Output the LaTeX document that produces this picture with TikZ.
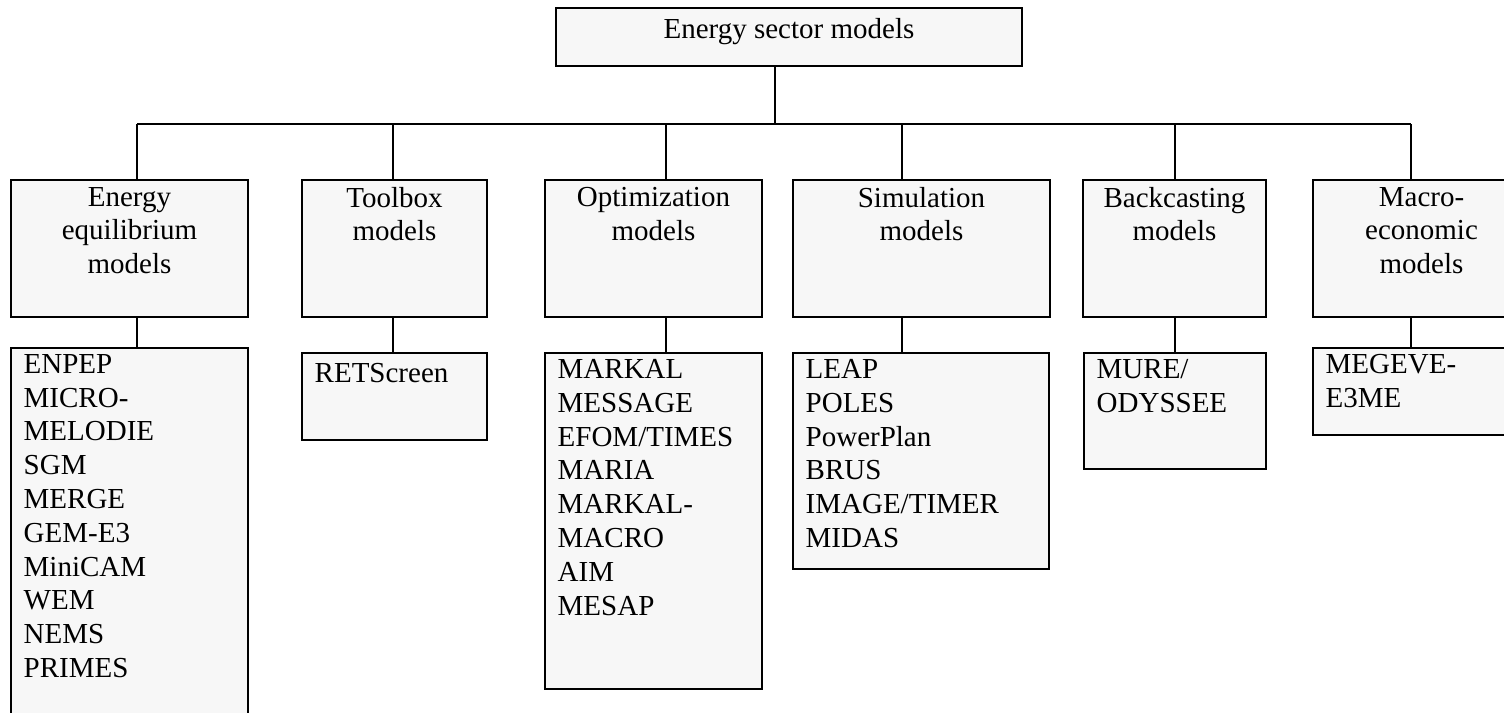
\documentclass[tikz,border=0pt]{standalone}
\usepackage{fontspec}
\setmainfont{Liberation Serif}
\usetikzlibrary{fit}
\definecolor{boxgray}{RGB}{247,247,247}

\begin{document}
\begin{tikzpicture}[x=0.5pt, y=-0.5pt, font=\fontsize{14.5}{16.75}\selectfont,
  box/.style={draw, fill=boxgray, line width=0.7pt, inner sep=0pt},
  head/.style={anchor=north, align=center, inner sep=0pt, yshift=-3.8pt, execute at begin node=\strut},
  items/.style={anchor=north west, align=left, inner sep=0pt, xshift=6.5pt, yshift=-3.3pt,
    font=\fontsize{14.5}{16.9}\selectfont, execute at begin node=\strut},
  link/.style={line width=0.6pt}]
  \clip (0,0) rectangle (1504,712);
  % root
  \node[box, fit={(556,8) (1022,66)}] (root) {};
  \node[head] (root-t) at (root.north) {Energy sector models};
  % model classes
  \node[box, fit={(11,180) (248,317)}] (eq) {};
  \node[head] (eq-t) at (eq.north) {Energy\\equilibrium\\models};
  \node[box, fit={(302,180) (487,317)}] (tb) {};
  \node[head] (tb-t) at (tb.north) {Toolbox\\models};
  \node[box, fit={(545,180) (762,317)}] (op) {};
  \node[head] (op-t) at (op.north) {Optimization\\models};
  \node[box, fit={(793,180) (1050,317)}] (si) {};
  \node[head] (si-t) at (si.north) {Simulation\\models};
  \node[box, fit={(1083,180) (1266,317)}] (bc) {};
  \node[head] (bc-t) at (bc.north) {Backcasting\\models};
  \node[box, fit={(1313,180) (1530,317)}] (me) {};
  \node[head] (me-t) at (me.north) {Macro-\\economic\\models};
  % model lists
  \node[box, fit={(11,348) (248,730)}] (eq-list) {};
  \node[items] (eq-items) at (eq-list.north west) {ENPEP\\MICRO-\\MELODIE\\SGM\\MERGE\\GEM-E3\\MiniCAM\\WEM\\NEMS\\PRIMES};
  \node[box, fit={(302,353) (487,440)}] (tb-list) {};
  \node[items] (tb-items) at (tb-list.north west) {RETScreen};
  \node[box, fit={(545,353) (762,689)}] (op-list) {};
  \node[items] (op-items) at (op-list.north west) {MARKAL\\MESSAGE\\EFOM/TIMES\\MARIA\\MARKAL-\\MACRO\\AIM\\MESAP};
  \node[box, fit={(793,353) (1049,569)}] (si-list) {};
  \node[items] (si-items) at (si-list.north west) {LEAP\\POLES\\PowerPlan\\BRUS\\IMAGE/TIMER\\MIDAS};
  \node[box, fit={(1084,353) (1266,469)}] (bc-list) {};
  \node[items] (bc-items) at (bc-list.north west) {MURE/\\ODYSSEE};
  \node[box, fit={(1313,348) (1530,435)}] (me-list) {};
  \node[items] (me-items) at (me-list.north west) {MEGEVE-\\E3ME};
  % tree lines
  \coordinate (hub) at (775,124);
  \foreach \n/\x in {eq/137, tb/393, op/666, si/902, bc/1175, me/1411}
    \coordinate (j-\n) at (\x,124);
  \draw[link] (root.south -| hub) -- (hub);
  \draw[link] (j-eq) -- (j-me);
  \foreach \n in {eq,tb,op,si,bc,me} {
    \draw[link] (j-\n) -- (j-\n |- \n.north);
    \draw[link] (\n.south -| j-\n) -- (\n-list.north -| j-\n);
  }
\end{tikzpicture}
\end{document}
